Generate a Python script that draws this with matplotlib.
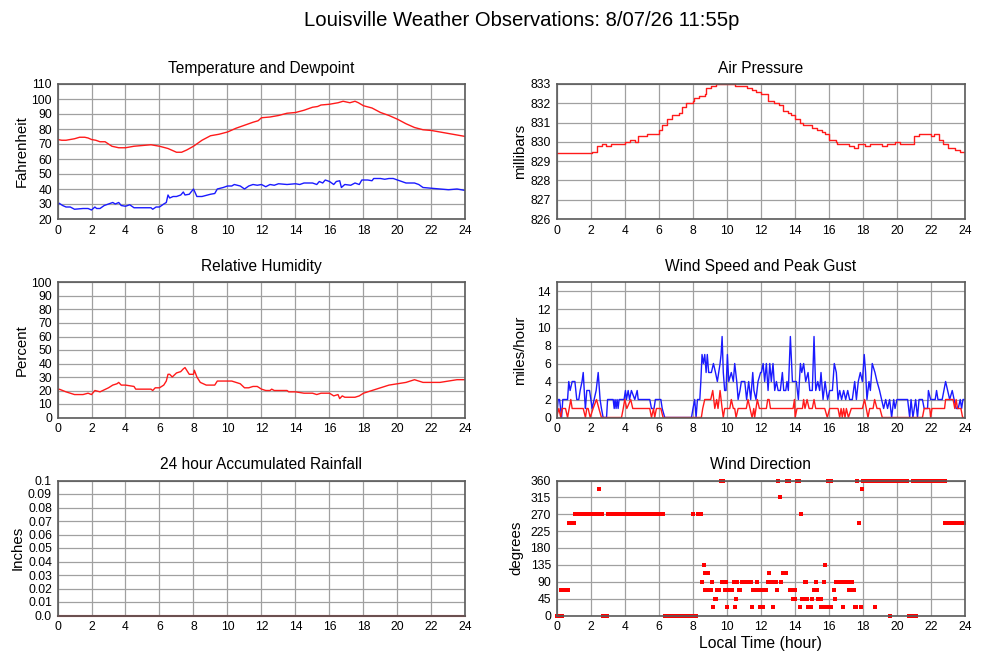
import matplotlib
matplotlib.use("Agg")
import matplotlib.pyplot as plt

plt.rcParams['font.family'] = ['Liberation Sans', 'DejaVu Sans']

# ---------------- data ----------------
temp_hours = [0, 0.25, 0.5, 0.75, 1.0, 1.3, 1.6, 1.8, 2.0, 2.25, 2.5, 2.8, 3.0, 3.2, 3.4, 3.6, 4.0, 4.5,
              5.0, 5.5, 6.0, 6.5, 7.0, 7.3, 7.6, 8.0, 8.5, 9.0, 9.5, 10.0, 10.5, 11.0, 11.5, 11.8, 12.0,
              12.5, 13.0, 13.5, 14.0, 14.5, 15.0, 15.3, 15.5, 16.0, 16.5, 16.8, 17.0, 17.2, 17.5, 17.7,
              18.0, 18.5, 19.0, 19.5, 20.0, 20.5, 21.0, 21.5, 22.0, 22.5, 23.0, 23.5, 24.0]
temp_f = [73, 72.5, 72.5, 73, 73.5, 74.5, 74.5, 74, 73, 72.5, 71.5, 71.5, 70, 68.5, 68, 67.5, 67.5, 68.5,
          69, 69.5, 68.5, 67, 64.5, 64.5, 66, 68.5, 72.5, 75.5, 76.5, 78, 80.5, 82.5, 84.5, 85.5, 87.5,
          88, 89, 90.5, 91, 92.5, 94.5, 95, 96, 96.5, 97.5, 98.5, 98, 97.5, 98.5, 97.5,
          95.5, 94, 91, 89, 86.5, 83.5, 81, 79.5, 79, 78, 77, 76, 75]

dew_hours = [0, 0.1, 0.3, 0.5, 0.75, 1.0, 1.5, 1.8, 2.0, 2.2, 2.3, 2.5, 2.75, 3.0, 3.25, 3.4, 3.6, 3.75,
             4.0, 4.25, 4.5, 5.0, 5.5, 5.6, 5.8, 6.0, 6.25, 6.4, 6.5, 6.6, 6.8, 7.0, 7.25, 7.4, 7.5,
             7.75, 8.0, 8.2, 8.5, 9.0, 9.25, 9.4, 9.75, 10.0, 10.25, 10.4, 10.75, 11.0, 11.25, 11.5,
             11.75, 12.0, 12.25, 12.5, 12.75, 13.0, 13.5, 14.0, 14.25, 14.5, 15.0, 15.25, 15.4, 15.6,
             15.75, 16.0, 16.25, 16.4, 16.6, 16.7, 16.9, 17.25, 17.5, 17.75, 17.9, 18.25, 18.5, 18.6,
             19.0, 19.25, 19.5, 19.75, 20.0, 20.25, 20.5, 21.0, 21.25, 21.5, 22.0, 22.5, 23.0, 23.5, 24.0]
dew_f = [29, 30.5, 29, 28, 28, 26.5, 27, 27, 26, 28, 27, 27, 29, 30, 31, 30, 31, 29,
         28.5, 29.5, 27.5, 27.5, 27.5, 26.5, 28, 28, 30, 31, 36, 34, 35, 35, 36, 38, 36,
         36.5, 40, 35, 35, 36.5, 37, 40, 41, 42, 42, 43, 42, 40, 42, 43,
         42.5, 43, 41.5, 43, 42.5, 43.5, 43, 43.5, 43, 44, 44, 43, 45, 44,
         46, 45, 43, 45, 45.5, 41, 43, 42.5, 44, 43, 46, 46, 45.5, 47,
         47, 46.5, 47, 47, 46, 45, 44, 44, 43, 41, 40.5, 40, 39.5, 40, 39]

pres_hours = [0, 2.1, 2.4, 2.7, 2.9, 3.2, 4.0, 4.3, 4.6, 4.8, 5.3, 6.0, 6.2, 6.5, 6.8, 7.2, 7.4, 7.6,
              8.0, 8.1, 8.4, 8.7, 8.8, 9.1, 9.4, 10.5, 11.2, 11.5, 11.7, 12.0, 12.4, 12.8, 13.1, 13.3,
              13.6, 13.8, 14.0, 14.3, 14.5, 15.0, 15.3, 15.6, 15.8, 16.0, 16.4, 16.5, 17.2, 17.5,
              17.7, 18.1, 18.4, 19.1, 19.4, 19.9, 20.2, 21.0, 21.3, 22.0, 22.2, 22.5, 22.7, 23.0,
              23.4, 23.7, 24.0]
pres_mb = [829.4, 829.5, 829.8, 829.9, 829.8, 829.9, 830.0, 830.1, 830.0, 830.3, 830.4, 830.6, 830.9,
           831.2, 831.4, 831.5, 831.8, 832.0, 832.1, 832.3, 832.4, 832.5, 832.8, 832.9, 833.0, 832.9,
           832.8, 832.7, 832.6, 832.5, 832.1, 832.0, 831.9, 831.6, 831.5, 831.4, 831.2, 831.0, 830.9,
           830.7, 830.6, 830.5, 830.4, 830.1, 830.0, 829.9, 829.8, 829.7, 829.9, 829.8, 829.9, 829.8,
           829.9, 830.0, 829.9, 830.3, 830.4, 830.3, 830.4, 830.1, 829.9, 829.7, 829.6, 829.5, 829.5]

rh_hours = [0, 0.1, 0.5, 1.0, 1.5, 1.8, 2.0, 2.2, 2.5, 3.0, 3.25, 3.5, 3.6, 3.75, 4.0, 4.5, 4.6, 5.0,
            5.5, 5.6, 5.75, 6.0, 6.25, 6.4, 6.5, 6.6, 6.75, 7.0, 7.25, 7.4, 7.5, 7.6, 7.75, 8.0, 8.05,
            8.2, 8.4, 8.75, 9.0, 9.25, 9.4, 9.75, 10.0, 10.25, 10.5, 10.75, 11.0, 11.25, 11.5, 11.75,
            12.0, 12.25, 12.5, 12.6, 12.75, 13.0, 13.5, 13.6, 14.0, 14.5, 15.0, 15.25, 15.5, 16.0,
            16.25, 16.5, 16.6, 16.75, 16.9, 17.5, 17.75, 18.0, 18.5, 19.0, 19.5, 20.0, 20.5, 21.0,
            21.25, 21.5, 22.0, 22.5, 23.0, 23.5, 24.0]
rh_pct = [20, 21, 19, 17, 17, 18, 17, 20, 19, 22, 24, 25, 26, 24, 24, 23, 21, 21,
          21, 20, 22, 22, 24, 27, 32, 32, 30, 33, 34, 36, 37, 35, 32, 32, 35,
          30, 26, 24, 24, 24, 27, 27, 27, 27, 26, 25, 22, 22, 23, 23,
          21, 20, 20, 21, 20, 20, 20, 19, 19, 18, 18, 17, 18, 18,
          16, 17, 14, 16, 15, 15, 16, 18, 20, 22, 24, 25, 26, 28,
          27, 26, 26, 26, 27, 28, 28]

gust_hours = [0.0, 0.1, 0.18, 0.3, 0.37, 0.65, 0.72, 0.8, 0.92, 1.08, 1.19, 1.31, 1.39, 1.5, 1.57, 1.66,
              1.7, 1.78, 1.94, 2.02, 2.09, 2.21, 2.33, 2.45, 2.56, 2.64, 2.74, 2.94, 3.0, 3.33, 3.39,
              3.44, 3.5, 3.56, 3.62, 3.68, 3.97, 4.05, 4.11, 4.21, 4.29, 4.4, 4.6, 4.74, 4.8, 5.48,
              5.58, 5.73, 5.81, 6.13, 6.21, 6.36, 7.93, 8.02, 8.12, 8.2, 8.28, 8.42, 8.48, 8.55, 8.63,
              8.71, 8.79, 8.86, 8.94, 9.1, 9.22, 9.34, 9.45, 9.53, 9.61, 9.67, 9.73, 9.8, 9.88, 9.96,
              10.04, 10.12, 10.27, 10.39, 10.47, 10.59, 10.67, 10.78, 10.86, 11.06, 11.17, 11.29,
              11.41, 11.53, 11.6, 11.72, 11.84, 11.99, 12.04, 12.14, 12.23, 12.33, 12.43, 12.53,
              12.62, 12.72, 12.82, 12.92, 13.02, 13.15, 13.27, 13.35, 13.47, 13.54, 13.62, 13.74,
              13.86, 13.98, 14.09, 14.21, 14.33, 14.41, 14.52, 14.64, 14.78, 14.88, 15.03, 15.13,
              15.23, 15.35, 15.46, 15.54, 15.66, 15.78, 15.85, 15.93, 16.05, 16.21, 16.32, 16.44,
              16.54, 16.64, 16.75, 16.87, 16.99, 17.11, 17.22, 17.38, 17.52, 17.62, 17.73, 17.85,
              17.97, 18.08, 18.16, 18.24, 18.36, 18.44, 18.55, 18.71, 18.83, 18.98, 19.1, 19.22,
              19.34, 19.45, 19.57, 19.69, 19.81, 19.89, 20.0, 20.63, 20.75, 20.83, 20.94, 21.1,
              21.21, 21.3, 21.5, 21.6, 21.8, 21.85, 21.98, 22.25, 22.33, 22.41, 22.66, 22.76, 22.86,
              22.98, 23.1, 23.25, 23.36, 23.48, 23.6, 23.72, 23.8, 23.88, 24.0]
gust_mph = [0, 2, 2, 0, 2, 2, 4, 3, 4, 4, 2, 2, 3, 4, 5, 2,
            1, 3, 3, 2, 1, 2, 3, 5, 2, 1, 0, 0, 2, 2, 1,
            2, 1, 2, 1, 2, 2, 3, 2, 3, 2, 3, 2, 3, 2, 2,
            1, 1, 2, 2, 1, 0, 0, 1, 2, 0, 2, 2, 4, 7, 6,
            7, 5, 7, 5, 5, 6, 5, 4, 5, 6, 7, 9, 5, 3, 3,
            7, 4, 5, 4, 6, 4, 2, 3, 4, 4, 2, 4,
            2, 5, 3, 2, 4, 5, 5, 6, 4, 6, 3, 6,
            4, 6, 3, 4, 3, 3, 5, 3, 3, 4, 3, 9,
            4, 4, 4, 2, 6, 5, 6, 4, 5, 3, 3, 9,
            3, 4, 3, 5, 2, 4, 3, 2, 3, 3, 6, 5,
            2, 3, 2, 3, 2, 3, 2, 2, 4, 2, 4, 5,
            4, 7, 5, 2, 4, 3, 6, 5, 4, 3, 2, 1,
            2, 1, 2, 0, 2, 1, 2, 2, 0, 2, 0, 2,
            0, 2, 2, 1, 1, 3, 2, 2, 3, 2, 2, 3, 4,
            3, 2, 3, 2, 1, 1, 2, 1, 2, 2]

speed_hours = [0, 0.14, 0.25, 0.33, 0.53, 0.65, 0.84, 0.92, 1.57, 1.7, 1.78, 1.86, 1.98, 2.15, 2.35,
               2.49, 2.64, 3.82, 3.92, 4.01, 4.13, 4.36, 4.48, 5.48, 5.58, 5.7, 5.77, 5.87, 6.13, 6.26,
               8.51, 8.59, 8.71, 9.06, 9.18, 9.3, 9.41, 9.49, 9.61, 9.73, 9.8, 9.88, 10.18, 10.27,
               10.39, 10.47, 10.55, 10.67, 11.15, 11.25, 11.37, 11.49, 11.59, 11.64, 11.8, 11.92,
               12.33, 12.41, 12.49, 12.57, 13.9, 13.98, 14.02, 14.13, 14.45, 14.52, 14.6, 14.72,
               14.84, 15.03, 15.13, 15.23, 15.76, 15.91, 16.05, 16.54, 16.64, 16.72, 16.79, 16.87,
               16.95, 17.03, 17.15, 17.32, 17.97, 18.1, 18.2, 18.3, 18.4, 18.6, 18.69, 18.83, 19.0,
               19.14, 21.5, 21.6, 21.93, 21.98, 22.06, 22.8, 22.86, 23.3, 23.4, 23.48, 23.56, 23.76,
               23.86, 24.0]
speed_mph = [0, 1, 0, 1, 1, 0, 2, 1, 1, 0, 1, 1, 0, 1, 2,
             1, 0, 0, 1, 2, 1, 2, 1, 1, 0, 1, 0, 1, 1, 0,
             0, 1, 2, 2, 3, 1, 2, 1, 3, 1, 0, 1, 1, 2,
             1, 1, 0, 1, 1, 2, 1, 0, 1, 0, 2, 1,
             1, 2, 2, 1, 1, 2, 0, 1, 1, 2, 1, 2,
             1, 1, 2, 1, 1, 0, 1, 1, 0, 1, 0, 1,
             0, 1, 0, 1, 1, 2, 1, 0, 1, 1, 2, 1, 1,
             0, 0, 1, 1, 0, 1, 1, 2, 2, 1, 2, 1, 1,
             0, 0]

rain_hours = [0, 24]
rain_in = [0.0, 0.0]

dir_hours = [0.0, 0.08, 0.17, 0.25, 0.33,
             0.25, 0.33, 0.42, 0.5, 0.58, 0.67,
             0.75, 0.83, 0.92, 1.0,
             1.1, 1.2, 1.3, 1.4, 1.5, 1.6, 1.7, 1.8, 1.9, 2.0, 2.1, 2.2, 2.3, 2.4, 2.55, 2.65,
             2.5,
             2.75, 2.85, 2.95,
             3.0, 3.1, 3.2, 3.3, 3.4, 3.5, 3.6, 3.7, 3.8, 3.9, 4.0, 4.1, 4.2, 4.3, 4.4, 4.5, 4.6,
             4.7, 4.8, 4.9, 5.0, 5.1, 5.2, 5.3, 5.4, 5.5, 5.6, 5.7, 5.8, 5.9, 6.0, 6.1, 6.2, 6.28,
             6.35, 6.45, 6.55, 6.65, 6.75, 6.85, 6.95, 7.05, 7.15, 7.25, 7.35, 7.45, 7.55, 7.65,
             7.75, 7.85, 7.95, 8.05, 8.15, 8.2,
             8.0, 8.3, 8.4, 8.5,
             8.53, 8.65, 8.73, 8.75, 8.9, 8.95, 9.05, 9.14, 9.22, 9.3, 9.4, 9.45, 9.55, 9.65, 9.8,
             9.7, 9.88, 9.96, 10.04, 10.12, 10.2, 10.3, 10.4, 10.47, 10.53, 10.63, 10.72, 10.8,
             10.9, 11.0, 11.1, 11.2, 11.3, 11.4, 11.47, 11.55, 11.65, 11.75, 11.85, 11.8,
             11.95, 12.05, 12.15, 12.0, 12.1, 12.2, 12.3, 12.4, 12.6, 12.7, 12.9, 12.47, 12.72,
             12.96, 13.02, 13.15, 13.21, 13.3, 13.4, 13.5, 13.55, 13.65, 13.7, 13.8, 13.9, 14.0,
             13.92, 14.02, 14.15, 14.25, 14.29, 14.39, 14.45, 14.55, 14.7, 14.58, 14.66, 14.8,
             14.9, 14.97, 15.03, 15.11, 15.2, 15.3, 15.22, 15.36, 15.45, 15.52, 15.56, 15.66,
             15.72, 15.8, 15.85, 15.95, 16.05, 16.15, 15.97, 16.1, 16.28, 16.38,
             16.44, 16.55, 16.65, 16.75, 16.85, 16.95, 17.05, 17.18, 16.83, 17.2, 17.3, 17.45,
             17.38, 17.55, 17.62, 17.67, 17.77, 17.87, 17.95,
             18.0, 18.1, 18.2, 18.3, 18.4, 18.5, 18.6, 18.8, 18.9, 19.0, 19.1, 19.2, 19.3, 19.4,
             19.5, 19.7, 19.8, 19.9, 20.0, 20.1, 20.2, 20.3, 20.4, 20.5, 20.6, 18.69,
             19.61, 20.7, 20.8, 21.05, 21.15, 20.95,
             21.2, 21.3, 21.4, 21.5, 21.6, 21.7, 21.8, 21.9, 22.0, 22.1, 22.2, 22.3, 22.4, 22.5,
             22.6, 22.7, 22.8,
             22.85, 22.95, 23.05, 23.15, 23.25, 23.35, 23.45, 23.55, 23.65, 23.75, 23.85, 23.95]
dir_deg = [0, 0, 0, 0, 0,
           67.5, 67.5, 67.5, 67.5, 67.5, 67.5,
           247.5, 247.5, 247.5, 247.5,
           270, 270, 270, 270, 270, 270, 270, 270, 270, 270, 270, 270, 270, 270, 270, 270,
           337.5,
           0, 0, 0,
           270, 270, 270, 270, 270, 270, 270, 270, 270, 270, 270, 270, 270, 270, 270, 270, 270,
           270, 270, 270, 270, 270, 270, 270, 270, 270, 270, 270, 270, 270, 270, 270, 270, 270,
           0, 0, 0, 0, 0, 0, 0, 0, 0, 0, 0, 0, 0, 0,
           0, 0, 0, 0, 0, 0,
           270, 270, 270, 270,
           90, 135, 67.5, 112.5, 112.5, 67.5, 67.5, 90, 22.5, 45, 45, 67.5, 67.5, 360, 360,
           90, 67.5, 90, 22.5, 67.5, 67.5, 67.5, 90, 22.5, 45, 90, 67.5, 67.5,
           90, 90, 90, 90, 90, 90, 22.5, 67.5, 67.5, 67.5, 67.5, 90,
           22.5, 22.5, 22.5, 67.5, 67.5, 67.5, 67.5, 90, 90, 90, 90, 112.5, 22.5,
           67.5, 360, 315, 90, 112.5, 112.5, 112.5, 360, 360, 67.5, 67.5, 67.5, 67.5,
           45, 45, 360, 360, 22.5, 270, 45, 45, 45, 90, 90, 22.5,
           22.5, 22.5, 45, 67.5, 67.5, 67.5, 90, 45, 45, 45, 22.5, 22.5,
           90, 135, 22.5, 22.5, 22.5, 22.5, 360, 360, 67.5, 45,
           90, 90, 90, 90, 90, 90, 90, 90, 22.5, 67.5, 67.5, 67.5,
           90, 22.5, 22.5, 360, 247.5, 22.5, 337.5,
           360, 360, 360, 360, 360, 360, 360, 360, 360, 360, 360, 360, 360, 360,
           360, 360, 360, 360, 360, 360, 360, 360, 360, 360, 360, 22.5,
           0, 0, 0, 0, 0, 360,
           360, 360, 360, 360, 360, 360, 360, 360, 360, 360, 360, 360, 360, 360,
           360, 360, 360,
           247.5, 247.5, 247.5, 247.5, 247.5, 247.5, 247.5, 247.5, 247.5, 247.5, 247.5, 247.5]

hour_ticks = list(range(0, 25, 2))

# ---------------- figure ----------------
W, H = 1000, 660
fig = plt.figure(figsize=(W / 100, H / 100), dpi=100)
fig.patch.set_facecolor('white')

RED = '#ff1a1a'
BLUE = '#1a1aff'
GRID = '#a0a0a0'
SPINE = '#5a5a5a'
TITLE_FS = 11.2
YLAB_FS = 10.8


def make_ax(x0, y0, x1, y1, ylab, ylab_right):
    ax = fig.add_axes([x0 / W, 1 - y1 / H, (x1 - x0) / W, (y1 - y0) / H])
    ax.set_xlim(0, 24)
    ax.set_xticks(hour_ticks)
    ax.grid(True, color=GRID, linewidth=0.9)
    ax.set_axisbelow(True)
    for s in ax.spines.values():
        s.set_color(SPINE)
        s.set_linewidth(1.2)
    ax.tick_params(length=0, labelsize=8.7, pad=4, colors='black')
    ax.set_ylabel(ylab, fontsize=YLAB_FS)
    ax.yaxis.set_label_coords((ylab_right - x0) / (x1 - x0), 0.5)
    return ax


LX0, LX1 = 57.5, 465.5
RX0, RX1 = 556.5, 965
ROWS = [(84, 219), (282.5, 417.5), (480.5, 615.5)]

fig.text(522 / W, 1 - 20 / H, 'Louisville Weather Observations: 8/07/26 11:55p',
         ha='center', va='center', fontsize=14.6)

# Temperature
ax = make_ax(LX0, ROWS[0][0], LX1, ROWS[0][1], 'Fahrenheit', 29)
ax.plot(temp_hours, temp_f, color=RED, lw=1.0)
ax.plot(dew_hours, dew_f, color=BLUE, lw=1.0)
ax.set_ylim(20, 110)
ax.set_yticks(range(20, 111, 10))
ax.set_title('Temperature and Dewpoint', fontsize=TITLE_FS, pad=8)

# Pressure
ax = make_ax(RX0, ROWS[0][0], RX1, ROWS[0][1], 'millibars', 527)
ax.plot(pres_hours, pres_mb, color=RED, lw=1.0, drawstyle='steps-post')
ax.set_ylim(826, 833)
ax.set_yticks(range(826, 834))
ax.set_title('Air Pressure', fontsize=TITLE_FS, pad=8)

# RH
ax = make_ax(LX0, ROWS[1][0], LX1, ROWS[1][1], 'Percent', 29)
ax.plot(rh_hours, rh_pct, color=RED, lw=1.0)
ax.set_ylim(0, 100)
ax.set_yticks(range(0, 101, 10))
ax.set_title('Relative Humidity', fontsize=TITLE_FS, pad=8)

# Wind
ax = make_ax(RX0, ROWS[1][0], RX1, ROWS[1][1], 'miles/hour', 527)
ax.plot(gust_hours, gust_mph, color=BLUE, lw=1.0)
ax.plot(speed_hours, speed_mph, color=RED, lw=1.0)
ax.set_ylim(0, 15)
ax.set_yticks(range(0, 15, 2))
ax.set_title('Wind Speed and Peak Gust', fontsize=TITLE_FS, pad=8)

# Rain
ax = make_ax(LX0, ROWS[2][0], LX1, ROWS[2][1], 'Inches', 25)
ax.plot(rain_hours, rain_in, color='#c02020', lw=1.5, clip_on=False)
ax.set_ylim(0, 0.1)
rt = [i / 100 for i in range(0, 11)]
ax.set_yticks(rt)
ax.set_yticklabels(['0.0'] + ['%g' % v for v in rt[1:]])
ax.set_title('24 hour Accumulated Rainfall', fontsize=TITLE_FS, pad=8)

# Wind direction
ax = make_ax(RX0, ROWS[2][0], RX1, ROWS[2][1], 'degrees', 523)
ax.plot(dir_hours, dir_deg, linestyle='none', marker='s', markersize=2.3,
        markeredgewidth=0, color='#ff0000', clip_on=False)
ax.set_ylim(0, 360)
ax.set_yticks(range(0, 361, 45))
ax.set_title('Wind Direction', fontsize=TITLE_FS, pad=8)
ax.set_xlabel('Local Time (hour)', fontsize=11.3, labelpad=2)

fig.savefig('out.png', dpi=100, facecolor='white')
